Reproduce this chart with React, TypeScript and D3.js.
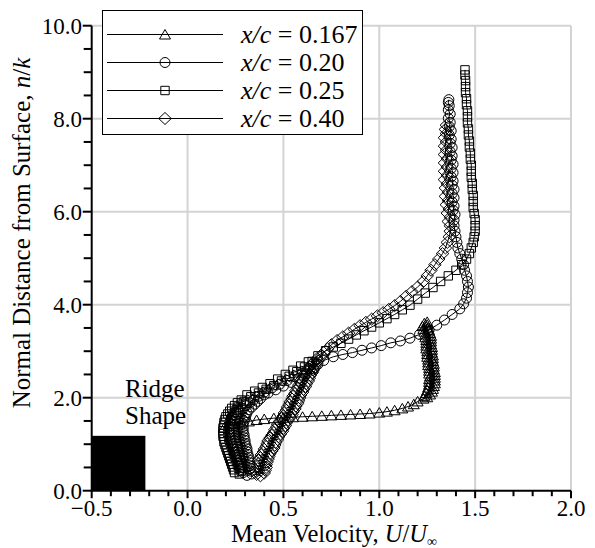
import React from 'react';
import * as d3 from 'd3';

const X_TICKS = [-0.5, 0.0, 0.5, 1.0, 1.5, 2.0];
const X_MINOR = d3.range(-5, 21).map((i) => i / 10);
const Y_TICKS = [0, 2, 4, 6, 8, 10];
const Y_MINOR = d3.range(0, 21).map((i) => i / 2);

const SERIES_LABELS = ['0.167', '0.20', '0.25', '0.40'];
const SERIES_SYMBOLS = ['triangle', 'circle', 'square', 'diamond'];

const RIDGE_U = [-0.5, -0.22];
const RIDGE_H = 1.18;

// x/c = 0.167 (triangles)
const TRI: [number, number][] = [
  [0.19, 1.35], [0.24, 1.43], [0.28, 1.47], [0.32, 1.49], [0.36, 1.52], [0.40, 1.54], [0.45, 1.56],
  [0.50, 1.57], [0.55, 1.58], [0.60, 1.59], [0.65, 1.60], [0.70, 1.61], [0.75, 1.62], [0.80, 1.63],
  [0.85, 1.64], [0.90, 1.65], [0.95, 1.66], [1.00, 1.68], [1.04, 1.70], [1.08, 1.73], [1.12, 1.77],
  [1.15, 1.81], [1.18, 1.86], [1.20, 1.92], [1.23, 1.98], [1.25, 2.01], [1.235, 2.04], [1.265, 2.07],
  [1.245, 2.10], [1.275, 2.13], [1.25, 2.16], [1.28, 2.19], [1.255, 2.22], [1.285, 2.25], [1.26, 2.28],
  [1.29, 2.31], [1.26, 2.34], [1.29, 2.37], [1.26, 2.40], [1.29, 2.43], [1.265, 2.46], [1.29, 2.49],
  [1.26, 2.52], [1.29, 2.55], [1.26, 2.58], [1.285, 2.61], [1.26, 2.64], [1.285, 2.67], [1.255, 2.70],
  [1.285, 2.73], [1.255, 2.76], [1.28, 2.79], [1.255, 2.82], [1.28, 2.85], [1.25, 2.88], [1.28, 2.91],
  [1.25, 2.94], [1.275, 2.97], [1.25, 3.00], [1.275, 3.03], [1.245, 3.06], [1.275, 3.09], [1.245, 3.12],
  [1.27, 3.15], [1.245, 3.18], [1.27, 3.21], [1.245, 3.24], [1.27, 3.27], [1.24, 3.30], [1.27, 3.33],
  [1.24, 3.36], [1.265, 3.39], [1.235, 3.42], [1.26, 3.45], [1.23, 3.48], [1.255, 3.51], [1.225, 3.54],
  [1.25, 3.57], [1.235, 3.60], [1.25, 3.63],
];

// x/c = 0.20 (circles)
const CIR: [number, number][] = [
  [0.31, 0.33], [0.335, 0.36], [0.29, 0.39], [0.33, 0.42], [0.285, 0.45], [0.33, 0.48], [0.285, 0.51],
  [0.325, 0.54], [0.28, 0.57], [0.325, 0.60], [0.28, 0.63], [0.32, 0.66], [0.275, 0.69], [0.32, 0.72],
  [0.27, 0.75], [0.315, 0.78], [0.27, 0.81], [0.31, 0.84], [0.265, 0.87], [0.31, 0.90], [0.26, 0.93],
  [0.305, 0.96], [0.26, 0.99], [0.30, 1.02], [0.255, 1.05], [0.30, 1.08], [0.25, 1.11], [0.295, 1.14],
  [0.25, 1.17], [0.295, 1.20], [0.245, 1.23], [0.29, 1.26], [0.245, 1.29], [0.29, 1.32], [0.245, 1.35],
  [0.29, 1.38], [0.245, 1.41], [0.29, 1.44], [0.25, 1.47], [0.295, 1.50], [0.25, 1.53], [0.30, 1.56],
  [0.255, 1.59], [0.305, 1.62], [0.265, 1.65], [0.31, 1.68], [0.275, 1.71], [0.32, 1.74], [0.29, 1.77],
  [0.335, 1.80], [0.305, 1.83], [0.35, 1.86], [0.325, 1.89], [0.365, 1.92], [0.345, 1.95], [0.38, 1.98],
  [0.37, 2.03], [0.40, 2.06], [0.40, 2.12], [0.42, 2.10], [0.44, 2.21], [0.46, 2.17], [0.48, 2.29],
  [0.50, 2.25], [0.52, 2.37], [0.54, 2.33], [0.56, 2.45], [0.58, 2.42], [0.60, 2.53], [0.62, 2.51],
  [0.64, 2.62], [0.66, 2.62], [0.68, 2.72], [0.71, 2.80], [0.76, 2.88], [0.81, 2.93], [0.86, 2.97],
  [0.91, 3.02], [0.96, 3.07], [1.01, 3.12], [1.06, 3.18], [1.11, 3.22], [1.16, 3.28], [1.21, 3.36],
  [1.26, 3.46], [1.30, 3.56], [1.34, 3.67], [1.38, 3.79], [1.42, 3.91], [1.44, 4.02], [1.455, 4.14],
  [1.46, 4.26], [1.465, 4.38], [1.46, 4.50], [1.455, 4.62], [1.445, 4.74], [1.44, 4.86], [1.43, 4.98],
  [1.42, 5.10], [1.41, 5.22], [1.405, 5.34], [1.40, 5.46], [1.395, 5.58], [1.39, 5.70], [1.39, 5.82],
  [1.395, 5.94], [1.385, 6.03], [1.39, 6.12], [1.38, 6.21], [1.39, 6.30], [1.38, 6.39], [1.39, 6.48],
  [1.38, 6.57], [1.385, 6.66], [1.375, 6.75], [1.385, 6.84], [1.375, 6.93], [1.385, 7.02], [1.375, 7.11],
  [1.38, 7.20], [1.37, 7.29], [1.38, 7.38], [1.37, 7.47], [1.375, 7.56], [1.365, 7.65], [1.375, 7.74],
  [1.365, 7.83], [1.37, 7.92], [1.36, 8.01], [1.37, 8.10], [1.36, 8.19], [1.365, 8.28], [1.36, 8.35],
  [1.363, 8.41],
];

// x/c = 0.25 (squares)
const SQU: [number, number][] = [
  [0.27, 0.36], [0.245, 0.39], [0.28, 0.42], [0.24, 0.45], [0.275, 0.48], [0.235, 0.51], [0.27, 0.54],
  [0.23, 0.57], [0.265, 0.60], [0.225, 0.63], [0.26, 0.66], [0.22, 0.69], [0.255, 0.72], [0.215, 0.75],
  [0.25, 0.78], [0.21, 0.81], [0.245, 0.84], [0.205, 0.87], [0.24, 0.90], [0.20, 0.93], [0.235, 0.96],
  [0.195, 0.99], [0.23, 1.02], [0.19, 1.05], [0.225, 1.08], [0.19, 1.11], [0.225, 1.14], [0.185, 1.17],
  [0.22, 1.20], [0.185, 1.23], [0.22, 1.26], [0.185, 1.29], [0.22, 1.32], [0.185, 1.35], [0.22, 1.38],
  [0.19, 1.41], [0.225, 1.44], [0.19, 1.47], [0.225, 1.50], [0.195, 1.53], [0.23, 1.56], [0.20, 1.59],
  [0.235, 1.62], [0.21, 1.65], [0.245, 1.68], [0.22, 1.71], [0.255, 1.74], [0.23, 1.77], [0.265, 1.80],
  [0.245, 1.83], [0.28, 1.86], [0.26, 1.89], [0.295, 1.92], [0.28, 1.95], [0.31, 2.06], [0.33, 2.02],
  [0.35, 2.14], [0.37, 2.10], [0.39, 2.22], [0.41, 2.18], [0.43, 2.30], [0.45, 2.26], [0.47, 2.40],
  [0.49, 2.36], [0.51, 2.50], [0.53, 2.46], [0.55, 2.59], [0.57, 2.56], [0.59, 2.68], [0.61, 2.66],
  [0.63, 2.77], [0.65, 2.78], [0.68, 2.90], [0.72, 3.01], [0.76, 3.09], [0.80, 3.17], [0.84, 3.26],
  [0.88, 3.35], [0.92, 3.44], [0.96, 3.52], [1.00, 3.61], [1.04, 3.70], [1.08, 3.79], [1.12, 3.89],
  [1.16, 3.99], [1.20, 4.12], [1.24, 4.25], [1.28, 4.37], [1.32, 4.50], [1.36, 4.62], [1.40, 4.74],
  [1.43, 4.86], [1.455, 4.98], [1.47, 5.10], [1.48, 5.22], [1.49, 5.34], [1.495, 5.46], [1.50, 5.58],
  [1.50, 5.70], [1.50, 5.83], [1.495, 5.96], [1.49, 6.09], [1.49, 6.22], [1.49, 6.35], [1.485, 6.48],
  [1.485, 6.61], [1.48, 6.74], [1.48, 6.87], [1.48, 7.00], [1.475, 7.13], [1.475, 7.26], [1.47, 7.39],
  [1.47, 7.52], [1.465, 7.65], [1.465, 7.78], [1.46, 7.91], [1.46, 8.04], [1.46, 8.17], [1.455, 8.30],
  [1.455, 8.43], [1.45, 8.56], [1.45, 8.69], [1.45, 8.82], [1.447, 8.94], [1.447, 9.05],
];

// x/c = 0.40 (diamonds)
const DIA: [number, number][] = [
  [0.38, 0.32], [0.36, 0.35], [0.40, 0.38], [0.36, 0.41], [0.405, 0.44], [0.365, 0.47], [0.41, 0.50],
  [0.365, 0.53], [0.41, 0.56], [0.37, 0.59], [0.415, 0.62], [0.37, 0.65], [0.42, 0.68], [0.38, 0.71],
  [0.425, 0.74], [0.385, 0.77], [0.43, 0.80], [0.395, 0.83], [0.44, 0.86], [0.40, 0.89], [0.45, 0.92],
  [0.41, 0.95], [0.455, 0.98], [0.415, 1.01], [0.46, 1.04], [0.42, 1.07], [0.47, 1.10], [0.43, 1.13],
  [0.475, 1.16], [0.44, 1.19], [0.485, 1.22], [0.45, 1.25], [0.495, 1.28], [0.455, 1.31], [0.50, 1.34],
  [0.465, 1.37], [0.51, 1.40], [0.47, 1.43], [0.515, 1.46], [0.48, 1.49], [0.525, 1.52], [0.49, 1.55],
  [0.535, 1.58], [0.50, 1.61], [0.545, 1.64], [0.505, 1.67], [0.55, 1.70], [0.515, 1.73], [0.56, 1.76],
  [0.52, 1.79], [0.565, 1.82], [0.53, 1.85], [0.575, 1.88], [0.535, 1.91], [0.58, 1.94], [0.545, 1.97],
  [0.585, 2.00], [0.55, 2.03], [0.59, 2.06], [0.56, 2.09], [0.60, 2.12], [0.565, 2.15], [0.605, 2.18],
  [0.575, 2.21], [0.615, 2.24], [0.58, 2.27], [0.62, 2.30], [0.59, 2.33], [0.63, 2.36], [0.595, 2.39],
  [0.635, 2.42], [0.605, 2.45], [0.64, 2.48], [0.61, 2.51], [0.65, 2.54], [0.62, 2.57], [0.655, 2.60],
  [0.63, 2.63], [0.665, 2.66], [0.64, 2.69], [0.67, 2.72], [0.655, 2.75], [0.68, 2.79], [0.675, 2.84],
  [0.70, 2.90], [0.71, 2.97], [0.73, 3.05], [0.75, 3.14], [0.78, 3.23], [0.81, 3.31], [0.84, 3.39],
  [0.87, 3.47], [0.90, 3.55], [0.93, 3.62], [0.96, 3.69], [0.99, 3.76], [1.02, 3.83], [1.05, 3.90],
  [1.08, 3.98], [1.11, 4.07], [1.14, 4.18], [1.17, 4.28], [1.20, 4.38], [1.23, 4.50], [1.25, 4.62],
  [1.27, 4.74], [1.29, 4.86], [1.31, 4.98], [1.33, 5.10], [1.345, 5.22], [1.355, 5.34], [1.365, 5.46],
  [1.37, 5.58], [1.37, 5.70], [1.36, 5.79], [1.37, 5.88], [1.355, 5.97], [1.365, 6.06], [1.35, 6.15],
  [1.36, 6.24], [1.345, 6.33], [1.36, 6.42], [1.345, 6.51], [1.355, 6.60], [1.34, 6.69], [1.355, 6.78],
  [1.34, 6.87], [1.355, 6.96], [1.34, 7.05], [1.355, 7.14], [1.34, 7.23], [1.35, 7.32], [1.34, 7.41],
  [1.35, 7.50], [1.34, 7.59], [1.35, 7.68], [1.345, 7.77], [1.35, 7.86],
];

const SERIES_DATA = [TRI, CIR, SQU, DIA];

const W = 595;
const H = 548;
const FONT = "'Liberation Serif'";

function markerPath(type: string): string {
  switch (type) {
    case 'triangle':
      return 'M0,-5L5.5,4.5L-5.5,4.5Z';
    case 'circle':
      return 'M5,0A5,5 0 1,1 -5,0A5,5 0 1,1 5,0Z';
    case 'square':
      return 'M-4.2,-4.2H4.2V4.2H-4.2Z';
    default:
      return 'M0,-6L6.3,0L0,6L-6.3,0Z';
  }
}

export default function App() {
  const x = d3.scaleLinear().domain([-0.5, 2.0]).range([91.7, 571]);
  const y = d3.scaleLinear().domain([0, 10]).range([490.7, 25.7]);
  const line = d3
    .line<[number, number]>()
    .x((d) => x(d[0]))
    .y((d) => y(d[1]));
  const fmt = d3.format('.1f');
  const gridColor = '#d3d3d3';
  const ts = { fontFamily: FONT };

  return (
    <svg width={W} height={H} style={{ position: 'absolute', left: 0, top: 0, background: '#fff' }}>
      <rect x={0} y={0} width={W} height={H} fill="#fff" />
      {X_TICKS.filter((t) => t > -0.5).map((t) => (
        <line key={'gx' + t} x1={x(t)} x2={x(t)} y1={y(0)} y2={y(10)} stroke={gridColor} strokeWidth={2} />
      ))}
      {Y_TICKS.filter((t) => t > 0).map((t) => (
        <line key={'gy' + t} x1={x(-0.5)} x2={x(2)} y1={y(t)} y2={y(t)} stroke={gridColor} strokeWidth={2} />
      ))}
      <rect
        x={x(RIDGE_U[0])}
        y={y(RIDGE_H)}
        width={x(RIDGE_U[1]) - x(RIDGE_U[0])}
        height={y(0) - y(RIDGE_H)}
        fill="#000"
      />
      <text x={125} y={397} fontSize={25} style={ts}>Ridge</text>
      <text x={125} y={424} fontSize={25} style={ts}>Shape</text>
      {SERIES_DATA.map((data, i) => (
        <g key={'s' + i}>
          <path d={line(data) || ''} fill="none" stroke="#000" strokeWidth={1} />
          {data.map((d, j) => (
            <path
              key={j}
              d={markerPath(SERIES_SYMBOLS[i])}
              transform={`translate(${x(d[0])},${y(d[1])})`}
              fill="none"
              stroke="#000"
              strokeWidth={1}
            />
          ))}
        </g>
      ))}
      <line x1={x(-0.5)} x2={x(2)} y1={y(0)} y2={y(0)} stroke="#000" strokeWidth={2} />
      <line x1={x(-0.5)} x2={x(-0.5)} y1={y(0)} y2={y(10)} stroke="#000" strokeWidth={2} />
      {X_MINOR.map((t) => {
        const major = Math.abs(t * 2 - Math.round(t * 2)) < 1e-6;
        return (
          <line key={'xt' + t} x1={x(t)} x2={x(t)} y1={y(0)} y2={y(0) + (major ? 7.5 : 5.5)} stroke="#000" strokeWidth={2} />
        );
      })}
      {Y_MINOR.map((t) => {
        const major = Math.abs(t / 2 - Math.round(t / 2)) < 1e-6;
        return (
          <line key={'yt' + t} x1={x(-0.5) - (major ? 9 : 8)} x2={x(-0.5)} y1={y(t)} y2={y(t)} stroke="#000" strokeWidth={2} />
        );
      })}
      {X_TICKS.map((t) => (
        <text key={'xl' + t} x={x(t)} y={516} fontSize={23} textAnchor="middle" style={ts}>
          {fmt(t)}
        </text>
      ))}
      {Y_TICKS.map((t) => (
        <text key={'yl' + t} x={82} y={y(t) + 8} fontSize={23} textAnchor="end" style={ts}>
          {fmt(t)}
        </text>
      ))}
      <text x={334} y={542} fontSize={24.5} textAnchor="middle" style={ts}>
        Mean Velocity, <tspan fontStyle="italic">U</tspan>/<tspan fontStyle="italic">U</tspan>
        <tspan fontSize={14} dy={4}>∞</tspan>
      </text>
      <text transform="translate(30,233) rotate(-90)" fontSize={25} textAnchor="middle" style={ts}>
        Normal Distance from Surface, <tspan fontStyle="italic">n</tspan>/<tspan fontStyle="italic">k</tspan>
      </text>
      <rect x={102.5} y={10.5} width={260} height={124} fill="#fff" stroke="#000" strokeWidth={1} />
      {SERIES_LABELS.map((lab, i) => {
        const cy = 34.5 + i * 28;
        return (
          <g key={'lg' + i}>
            <line x1={107} x2={223} y1={cy} y2={cy} stroke="#000" strokeWidth={1} />
            <path d={markerPath(SERIES_SYMBOLS[i])} transform={`translate(165,${cy})`} fill="none" stroke="#000" strokeWidth={1} />
            <text x={241} y={cy + 8} fontSize={26} style={ts}>
              <tspan fontStyle="italic">x/c</tspan> = {lab}
            </text>
          </g>
        );
      })}
    </svg>
  );
}
